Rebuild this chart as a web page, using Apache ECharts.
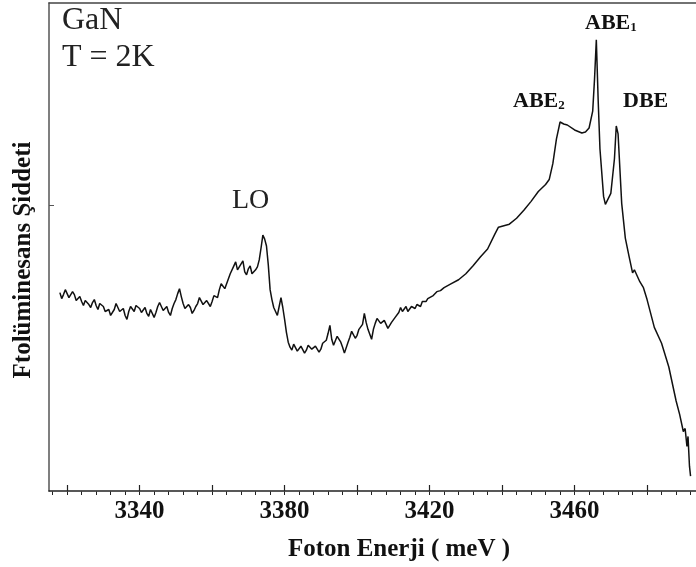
<!DOCTYPE html>
<html>
<head>
<meta charset="utf-8">
<script src="https://cdn.jsdelivr.net/npm/echarts@6/dist/echarts.min.js"></script>
<style>
html,body{margin:0;padding:0;background:#fff;}
#chart{width:696px;height:567px;}
</style>
</head>
<body>
<div id="chart"></div>
<script>
// Photon energy (meV)
const energy = [
3318,3318.5,3319,3319.5,3320,3320.5,3321,3321.5,3322,3322.5,3323,3323.5,3324,3324.5,3325,3325.5,3326,3326.5,3327,3327.5,
3328,3328.5,3329,3329.5,3330,3330.5,3331,3331.5,3332,3332.5,3333,3333.5,3334,3334.5,3335,3335.5,3336,3336.5,3337,3337.5,
3338,3338.5,3339,3339.5,3340,3340.5,3341,3341.5,3342,3342.5,3343,3343.5,3344,3344.5,3345,3345.5,3346,3346.5,3347,3347.5,
3348,3348.5,3349,3349.5,3350,3350.5,3351,3351.5,3352,3352.5,3353,3353.5,3354,3354.5,3355,3355.5,3356,3356.5,3357,3357.5,
3358,3358.5,3359,3359.5,3360,3360.5,3361,3361.5,3362,3362.5,3363,3363.5,3364,3364.5,3365,3365.5,3366,3366.5,3367,3367.5,
3368,3368.5,3369,3369.5,3370,3370.5,3371,3371.5,3372,3372.5,3373,3373.5,3374,3374.5,3375,3375.5,3376,3376.5,3377,3377.5,
3378,3378.5,3379,3379.5,3380,3380.5,3381,3381.5,3382,3382.5,3383,3383.5,3384,3384.5,3385,3385.5,3386,3386.5,3387,3387.5,
3388,3388.5,3389,3389.5,3390,3390.5,3391,3391.5,3392,3392.5,3393,3393.5,3394,3394.5,3395,3395.5,3396,3396.5,3397,3397.5,
3398,3398.5,3399,3399.5,3400,3400.5,3401,3401.5,3402,3402.5,3403,3403.5,3404,3404.5,3405,3405.5,3406,3406.5,3407,3407.5,
3408,3408.5,3409,3409.5,3410,3410.5,3411,3411.5,3412,3412.5,3413,3413.5,3414,3414.5,3415,3415.5,3416,3416.5,3417,3417.5,
3418,3418.5,3419,3419.5,3420,3421,3422,3423,3424,3426,3428,3430,3432,3434,3436,3438,3439,3440,3442,3444,3446,3448,3450,
3452,3453,3454,3455,3456,3457,3458,3460,3462,3463,3464,3465,3465.5,3466,3466.5,3467,3468,3468.5,3469,3470,3471,3471.5,3472,
3473,3474,3475,3476,3476.5,3477,3478,3479,3480,3482,3484,3486,3488,3489,3490,3490.5,3491,3491.3,3491.7,3492
];
// Photoluminescence intensity (arb. units)
const intensity = [
200,194,198,203,201,195,196,201,198,192,193,196,191,187,192,194,188,185,190,193,
187,183,189,191,186,181,182,183,177,176,183,189,187,181,183,184,177,173,181,186,
185,181,187,189,184,180,182,185,179,176,183,182,175,180,186,190,188,182,183,186,
180,177,184,189,193,199,204,196,189,184,183,188,185,179,182,186,189,195,193,188,
188,192,190,186,191,197,196,195,203,209,210,204,206,214,219,221,227,231,223,224,
229,232,221,218,224,227,219,218,223,226,233,245,258,254,247,228,203,193,185,181,
177,186,195,185,173,160,150,145,142,148,147,141,140,146,145,139,142,147,147,143,
141,146,145,140,143,149,148,152,159,167,153,147,149,156,157,150,145,139,141,150,
155,161,159,154,157,163,162,168,179,170,163,158,153,163,169,174,174,169,170,172,
168,164,166,170,170,175,177,180,185,181,183,186,181,179,186,184,184,188,189,186,
191,193,191,194,195,197,201,202,205,209,213,219,227,236,244,259,266,267,269,275,283,292,302,
309,314,330,355,372,370,369,364,361,362,366,383,415,455,395,345,297,289,288,300,335,368,360,
290,255,237,220,223,224,211,205,193,165,149,125,91,77,60,63,45,55,25,15
];
const xTickLabels = [3340, 3380, 3420, 3460];
const xMajorTicks = [3320, 3340, 3360, 3380, 3400, 3420, 3440, 3460, 3480];
const xMinorTicks = [3316,3320,3324,3328,3332,3336,3340,3344,3348,3352,3356,3360,3364,3368,3372,3376,3380,3384,3388,3392,
  3396,3400,3404,3408,3412,3416,3420,3424,3428,3432,3436,3440,3444,3448,3452,3456,3460,3464,3468,3472,3476,3480,3484,3488,3492];
const yTicks = [288];

const serif = '"Liberation Serif", "Times New Roman", "DejaVu Serif", serif';
const X_MIN = 3315, X_MAX = 3493.5, Y_MIN = 0, Y_MAX = 492;
const gridPos = {left: 49, right: 0, top: 3, bottom: 72};

const chart = echarts.init(document.getElementById('chart'), null, {renderer: 'canvas'});
chart.setOption({
  backgroundColor: '#ffffff',
  animation: false,
  grid: [Object.assign({}, gridPos), Object.assign({}, gridPos)],
  xAxis: [
    {
      type: 'value', gridIndex: 0, position: 'bottom', min: X_MIN, max: X_MAX,
      axisLine: {show: true, onZero: false, lineStyle: {color: '#222', width: 1.5}},
      axisTick: {show: true, inside: true, length: 6, customValues: xMajorTicks, lineStyle: {color: '#222', width: 1.2}},
      axisLabel: {show: true, customValues: xTickLabels, formatter: v => String(v),
        fontFamily: serif, fontSize: 25, fontWeight: 'bold', color: '#111', margin: 8},
      splitLine: {show: false},
      name: 'Foton Enerji ( meV )', nameLocation: 'middle', nameGap: 46,
      nameTextStyle: {fontFamily: serif, fontSize: 25, fontWeight: 'bold', color: '#111', padding: [0, 0, 0, 53]}
    },
    {
      type: 'value', gridIndex: 0, position: 'top', min: X_MIN, max: X_MAX,
      axisLine: {show: true, onZero: false, lineStyle: {color: '#444', width: 1.5}},
      axisTick: {show: false}, axisLabel: {show: false}, splitLine: {show: false}
    },
    {
      type: 'value', gridIndex: 1, position: 'bottom', min: X_MIN, max: X_MAX, show: true,
      axisLine: {show: true, onZero: false, lineStyle: {color: 'rgba(0,0,0,0)', width: 1}},
      axisTick: {show: true, inside: true, length: 3.5, customValues: xMinorTicks, lineStyle: {color: '#222', width: 1}},
      axisLabel: {show: false}, splitLine: {show: false}
    }
  ],
  yAxis: [
    {
      type: 'value', gridIndex: 0, min: Y_MIN, max: Y_MAX,
      axisLine: {show: true, onZero: false, lineStyle: {color: '#555', width: 1.5}},
      axisTick: {show: true, inside: true, length: 5, customValues: yTicks, lineStyle: {color: '#555'}},
      axisLabel: {show: false}, splitLine: {show: false},
      name: 'Ftolüminesans Şiddeti', nameLocation: 'middle', nameGap: 13,
      nameTextStyle: {fontFamily: serif, fontSize: 25, fontWeight: 'bold', color: '#111', padding: [0, 26, 0, 0]}
    },
    {
      type: 'value', gridIndex: 1, min: Y_MIN, max: Y_MAX,
      axisLine: {show: false}, axisTick: {show: false}, axisLabel: {show: false}, splitLine: {show: false}
    }
  ],
  series: [{
    type: 'line', xAxisIndex: 0, yAxisIndex: 0,
    data: energy.map((e, i) => [e, intensity[i]]),
    showSymbol: false, symbol: 'none', smooth: false,
    lineStyle: {color: '#111', width: 1.5},
    silent: true
  }],
  graphic: [
    {type: 'text', left: 62, top: 5, style: {text: 'GaN', font: '32px ' + serif, fill: '#222'}},
    {type: 'text', left: 62, top: 42, style: {text: 'T = 2K', font: '32px ' + serif, fill: '#222'}},
    {type: 'text', left: 232, top: 187, style: {text: 'LO', font: '28px ' + serif, fill: '#222'}},
    {type: 'text', left: 585, top: 12, style: {
      text: 'ABE{s|1}', font: 'bold 22px ' + serif, fill: '#111',
      rich: {s: {fontFamily: serif, fontWeight: 'bold', fontSize: 13, fill: '#111', verticalAlign: 'bottom', padding: [10, 0, 0, 0]}}
    }},
    {type: 'text', left: 513, top: 90, style: {
      text: 'ABE{s|2}', font: 'bold 22px ' + serif, fill: '#111',
      rich: {s: {fontFamily: serif, fontWeight: 'bold', fontSize: 13, fill: '#111', verticalAlign: 'bottom', padding: [10, 0, 0, 0]}}
    }},
    {type: 'text', left: 623, top: 90, style: {text: 'DBE', font: 'bold 22px ' + serif, fill: '#111'}}
  ]
});
</script>
</body>
</html>
